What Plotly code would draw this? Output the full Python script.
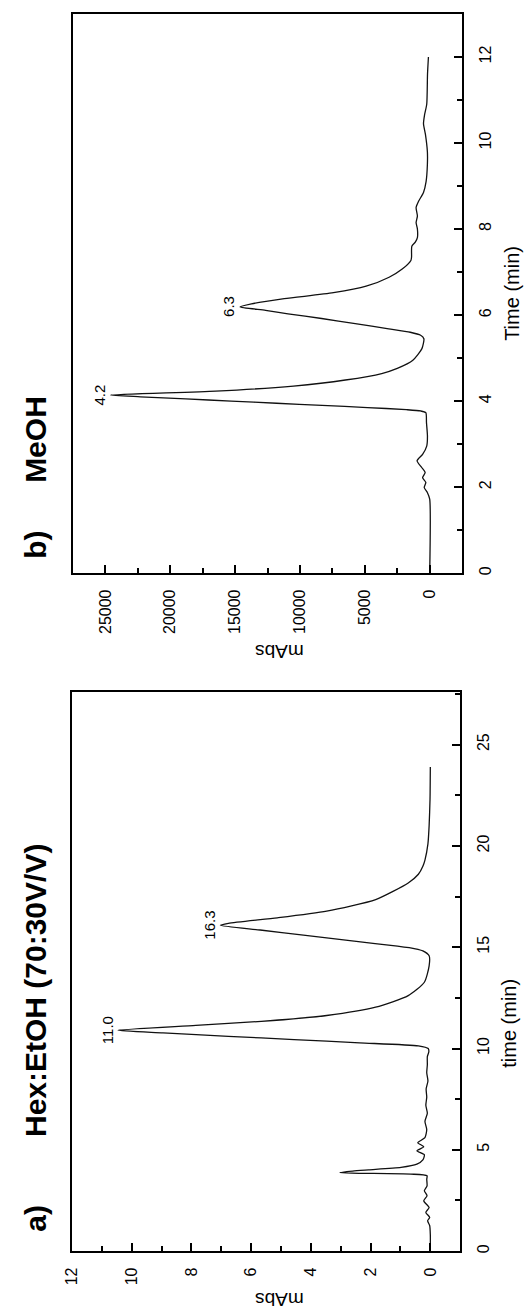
import plotly.graph_objects as go

W, H = 529, 1314

# ---------------- data ----------------
# Panel b) MeOH
time_b = [0, 1.72, 1.87, 1.99, 2.11, 2.22, 2.34, 2.45, 2.61, 2.76, 2.96, 3.19, 3.50, 3.73,
          3.77, 3.80, 3.85, 3.90, 3.95, 4.00, 4.05, 4.10, 4.14,
          4.23, 4.35, 4.49, 4.64, 4.76, 4.95, 5.22, 5.45,
          5.53, 5.60, 5.68, 5.80, 5.92, 6.03, 6.11, 6.19,
          6.26, 6.38, 6.52, 6.67, 6.88, 7.07, 7.27, 7.35, 7.60, 7.70, 7.80, 8.00,
          8.15, 8.30, 8.50, 8.65, 8.85, 9.10, 9.50, 9.80, 10.20, 10.45, 10.65, 10.90,
          11.60, 12.00]
mabs_b = [0, 0, 175, 425, 300, 550, 350, 600, 975, 550, 225, 175, 250, 300,
          700, 1800, 4800, 8300, 11800, 15300, 18800, 22300, 24600,
          16500, 10500, 6500, 3700, 2500, 1300, 600, 450,
          700, 1500, 3160, 5740, 8330, 10920, 12650, 14620,
          13740, 11210, 7420, 4900, 3130, 2120, 1450, 1400, 1380, 1100, 950, 950,
          1050, 950, 1050, 850, 480, 280, 180, 180, 330, 480, 400, 230,
          170, 100]

# Panel a) Hex:EtOH (70:30 V/V)
time_a = [0, 0.80, 1.25, 1.50, 1.66, 1.91, 2.15, 2.48, 2.73, 2.98, 3.22, 3.55, 3.72,
          3.80, 3.85, 3.88, 3.95, 4.01, 4.13, 4.29, 4.50, 4.75, 4.95, 5.15, 5.35, 5.60,
          6.00, 6.40, 6.80, 7.20, 7.60, 8.00, 8.40, 8.80, 9.20, 9.60, 9.84, 10.00,
          10.13, 10.28, 10.44, 10.60, 10.77, 10.90, 11.14, 11.34, 11.63, 12.04, 12.61,
          13.27, 14.08, 14.58, 14.82, 14.92, 15.05, 15.30, 15.60, 15.85, 16.08, 16.18, 16.45,
          16.78, 17.35, 18.17, 18.60, 19.00, 19.30, 20.10, 21.00, 22.30, 23.90]
mabs_a = [0, 0, 0.02, 0.09, 0.02, 0.15, 0.04, 0.22, 0.11, 0.20, 0.11, 0.12, 0.11,
          0.65, 2.62, 3.03, 2.60, 2.07, 0.98, 0.45, 0.25, 0.20, 0.45, 0.22, 0.42, 0.18,
          0.12, 0.18, 0.10, 0.15, 0.12, 0.14, 0.08, 0.12, 0.10, 0.10, 0.05, 0.07,
          0.40, 2.37, 4.56, 6.76, 8.95, 10.46, 7.85, 5.66, 3.47, 1.83, 0.74,
          0.20, 0.04, 0.04, 0.25, 0.50, 1.10, 2.55, 4.25, 5.70, 7.03, 6.76, 5.12,
          3.47, 1.83, 0.74, 0.40, 0.25, 0.18, 0.08, 0.04, 0.01, 0]

# peak labels
peaks_b = [("4.2", 24600, 4.14), ("6.3", 14620, 6.19)]
peaks_a = [("11.0", 10.46, 10.90), ("16.3", 7.03, 16.08)]

# tick labels
mabs_ticks_b = [0, 5000, 10000, 15000, 20000, 25000]
mabs_ticktext_b = ["0", "5000", "10000", "15000", "20000", "25000"]
time_ticks_b = [0, 2, 4, 6, 8, 10, 12]
mabs_ticks_a = [0, 2, 4, 6, 8, 10, 12]
time_ticks_a = [0, 5, 10, 15, 20, 25]

FONT = "Liberation Sans, Arial, Helvetica, sans-serif"

fig = go.Figure()
line_style = dict(color="#111111", width=1.3, shape="spline", smoothing=0.6)
fig.add_trace(go.Scatter(x=mabs_b, y=time_b, xaxis="x", yaxis="y", mode="lines",
                         line=line_style, showlegend=False, hoverinfo="skip"))
fig.add_trace(go.Scatter(x=mabs_a, y=time_a, xaxis="x2", yaxis="y2", mode="lines",
                         line=line_style, showlegend=False, hoverinfo="skip"))

common = dict(showline=True, linewidth=2, linecolor="black", mirror=True,
              showgrid=False, zeroline=False, ticks="inside", ticklen=8,
              tickwidth=2, tickcolor="black", tickangle=-90,
              tickfont=dict(family=FONT, size=16, color="black"))

def py(p):
    return 1 - p / H

def minor(d):
    return dict(ticks="inside", ticklen=5, tickwidth=2, tickcolor="black", tick0=0, dtick=d)

fig.update_layout(
    width=W, height=H, margin=dict(l=0, r=0, t=0, b=0),
    paper_bgcolor="white", plot_bgcolor="white",
    xaxis=dict(domain=[65 / W, 461 / W], range=[27500, -2500], anchor="y",
               tickvals=mabs_ticks_b, ticktext=mabs_ticktext_b, minor=minor(2500),
               ticklabelstandoff=8, **common),
    yaxis=dict(domain=[py(574), py(14)], range=[0, 13], anchor="x", side="right",
               tickvals=time_ticks_b, minor=minor(1),
               ticklabelstandoff=8, **common),
    xaxis2=dict(domain=[64 / W, 459 / W], range=[12, -1], anchor="y2",
                tickvals=mabs_ticks_a, minor=minor(1),
                ticklabelstandoff=8, **common),
    yaxis2=dict(domain=[py(1253), py(693)], range=[0, 27.6], anchor="x2", side="right",
                tickvals=time_ticks_a, minor=minor(2.5),
                ticklabelstandoff=8, **common),
)

ann = []
def paper_text(text, x, y, size, angle, bold=False):
    ann.append(dict(text=("<b>%s</b>" % text) if bold else text,
                    x=x / W, y=py(y), xref="paper", yref="paper",
                    xanchor="center", yanchor="middle", textangle=angle,
                    showarrow=False, font=dict(family=FONT, size=size, color="black")))

paper_text("b)", 27, 546, 30, -90, True)
paper_text("MeOH", 27, 440, 30, -90, True)
paper_text("a)", 27, 1220, 30, -90, True)
paper_text("Hex:EtOH (70:30V/V)", 27, 992, 30, -90, True)
paper_text("Time (min)", 511, 294, 20, -90)
paper_text("time (min)", 509, 1025, 20, -90)
paper_text("mAbs", 275, 653, 19, 180)
paper_text("mAbs", 275, 1302, 19, 180)

for (lab, xv, yv) in peaks_b:
    ann.append(dict(text=lab, x=xv, y=yv, xref="x", yref="y", xanchor="center",
                    yanchor="middle", textangle=-90, showarrow=False, xshift=-11,
                    font=dict(family=FONT, size=15, color="black")))
for (lab, xv, yv) in peaks_a:
    ann.append(dict(text=lab, x=xv, y=yv, xref="x2", yref="y2", xanchor="center",
                    yanchor="middle", textangle=-90, showarrow=False, xshift=-11,
                    font=dict(family=FONT, size=15, color="black")))

fig.update_layout(annotations=ann)
fig.write_html("out.html")
